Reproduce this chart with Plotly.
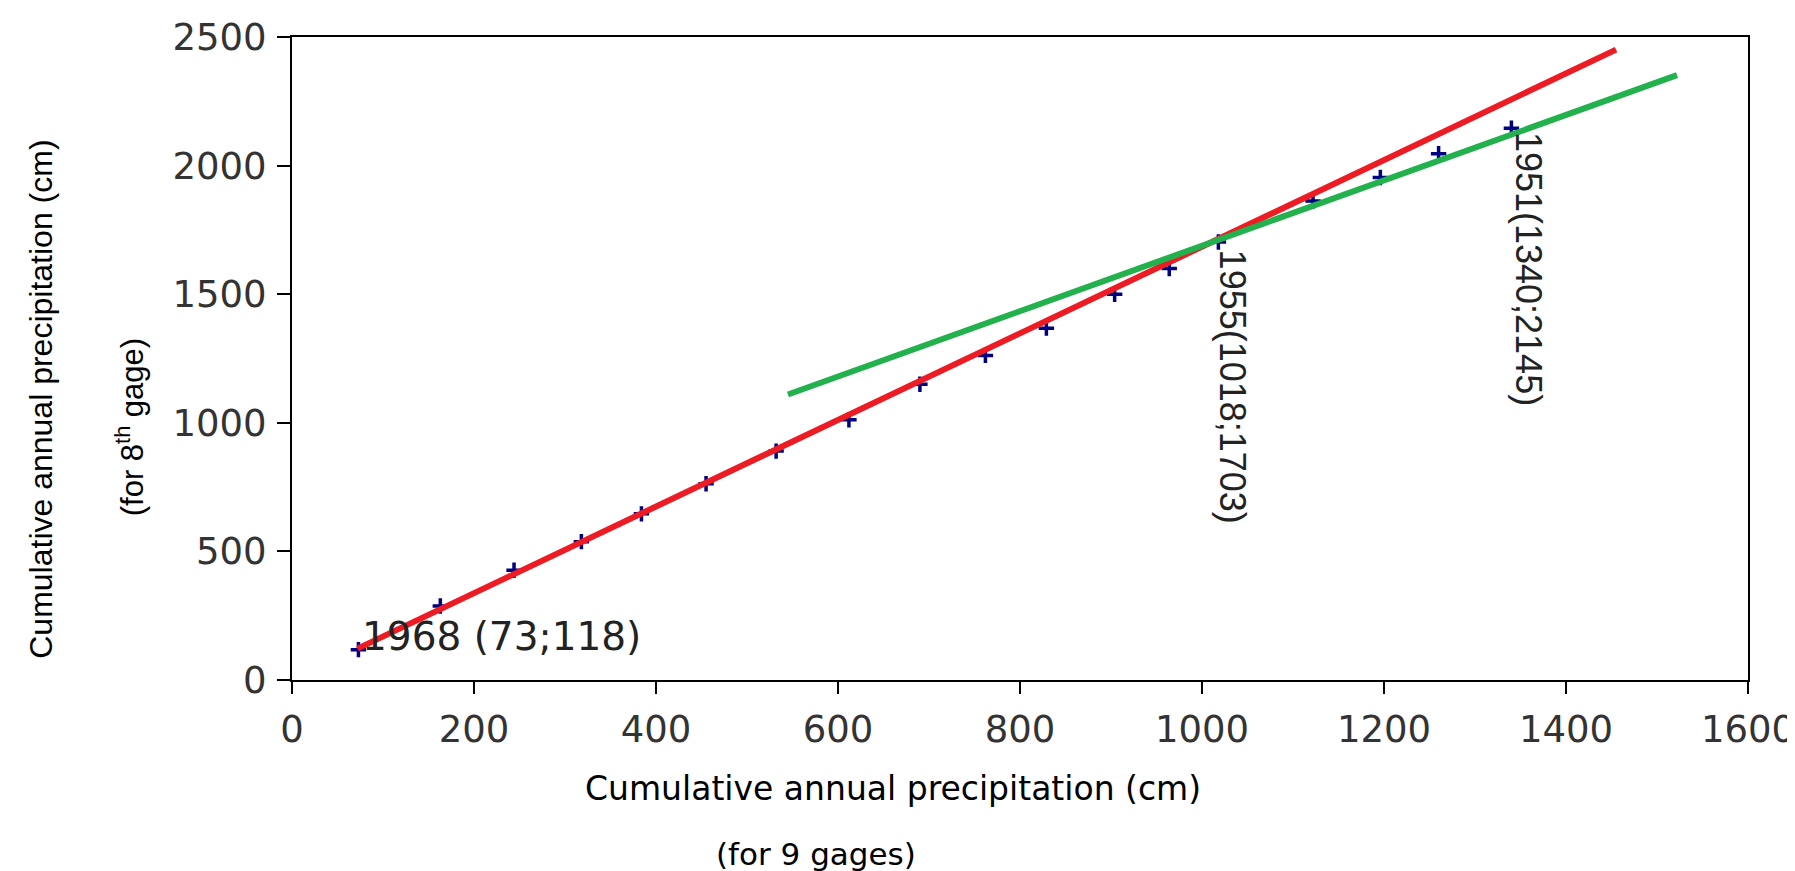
import plotly.graph_objects as go

# Data points: cumulative annual precipitation (9 gages) vs 8th gage
x_9gages = [73, 163, 244, 318, 384, 455, 532, 612, 690, 762, 829, 904, 964,
            1018, 1122, 1196, 1260, 1340]
y_8thgage = [118, 288, 427, 538, 646, 763, 890, 1012, 1150, 1262, 1368, 1500,
             1600, 1703, 1862, 1954, 2046, 2145]

# Fitted trend lines (end points)
red_x = [72, 1455]
red_y = [122, 2451]
green_x = [545, 1522]
green_y = [1110, 2352]

# Labeled points
lbl_x = [73, 1018, 1340]
lbl_y = [118, 1703, 2145]
lbl_text = ["1968 (73;118)", "1955(1018;1703)", "1951(1340;2145)"]

x_ticks = [0, 200, 400, 600, 800, 1000, 1200, 1400, 1600]
y_ticks = [0, 500, 1000, 1500, 2000, 2500]

fig = go.Figure()

fig.add_trace(go.Scatter(
    x=x_9gages, y=y_8thgage, mode="markers",
    marker=dict(symbol="cross-thin", size=11, color="#000080",
                line=dict(width=3.5, color="#000080")),
    showlegend=False, hoverinfo="x+y"))

fig.add_trace(go.Scatter(
    x=red_x, y=red_y, mode="lines",
    line=dict(color="#ed1c24", width=6), showlegend=False))

fig.add_trace(go.Scatter(
    x=green_x, y=green_y, mode="lines",
    line=dict(color="#22b14c", width=6), showlegend=False))

tick_font = dict(family="DejaVu Sans", size=37, color="#333333")

fig.update_xaxes(
    range=[0, 1600], tickvals=x_ticks, ticktext=[str(v) for v in x_ticks],
    ticks="outside", ticklen=12, tickwidth=2, tickcolor="black",
    showline=True, linewidth=2, linecolor="black", mirror=True,
    showgrid=False, zeroline=False, tickfont=tick_font,
    ticklabelstandoff=4)
fig.update_yaxes(
    range=[0, 2500], tickvals=y_ticks, ticktext=[str(v) for v in y_ticks],
    ticks="outside", ticklen=13, tickwidth=2, tickcolor="black",
    showline=True, linewidth=2, linecolor="black", mirror=True,
    showgrid=False, zeroline=False, tickfont=tick_font,
    ticklabelstandoff=3)

ann_font = dict(family="Liberation Sans, Arial, sans-serif", size=36, color="#222222")
side_font = "Liberation Sans, Arial, sans-serif"

annotations = [
    dict(x=lbl_x[0], y=lbl_y[0], xref="x", yref="y", text=lbl_text[0],
         showarrow=False, xanchor="left", yanchor="bottom", xshift=2, yshift=-11,
         font=dict(family="DejaVu Sans", size=39, color="#222222")),
    dict(x=lbl_x[1], y=lbl_y[1], xref="x", yref="y", text=lbl_text[1],
         showarrow=False, xanchor="center", yanchor="top", xshift=14, yshift=-6,
         textangle=90, font=ann_font),
    dict(x=lbl_x[2], y=lbl_y[2], xref="x", yref="y", text=lbl_text[2],
         showarrow=False, xanchor="center", yanchor="top", xshift=17, yshift=-2,
         textangle=90, font=ann_font),
    # x-axis titles
    dict(x=0.413, y=-0.169, xref="paper", yref="paper",
         text="Cumulative annual precipitation (cm)", showarrow=False,
         xanchor="center", yanchor="middle",
         font=dict(family="DejaVu Sans", size=33, color="black")),
    dict(x=0.36, y=-0.271, xref="paper", yref="paper",
         text="(for 9 gages)", showarrow=False,
         xanchor="center", yanchor="middle",
         font=dict(family="DejaVu Sans", size=31, color="black")),
    # y-axis titles
    dict(x=-0.172, y=0.4367, xref="paper", yref="paper",
         text="Cumulative annual precipitation (cm)", showarrow=False,
         xanchor="center", yanchor="middle", textangle=-90,
         font=dict(family=side_font, size=32, color="black")),
    dict(x=-0.1113, y=0.393, xref="paper", yref="paper",
         text="(for 8<sup>th</sup> gage)", showarrow=False,
         xanchor="center", yanchor="middle", textangle=-90,
         font=dict(family=side_font, size=31, color="black")),
]

fig.update_layout(
    width=1795, height=871,
    margin=dict(l=284, r=55, t=29, b=199, autoexpand=False),
    plot_bgcolor="white", paper_bgcolor="white",
    annotations=annotations, showlegend=False)

fig.write_html("out.html")
